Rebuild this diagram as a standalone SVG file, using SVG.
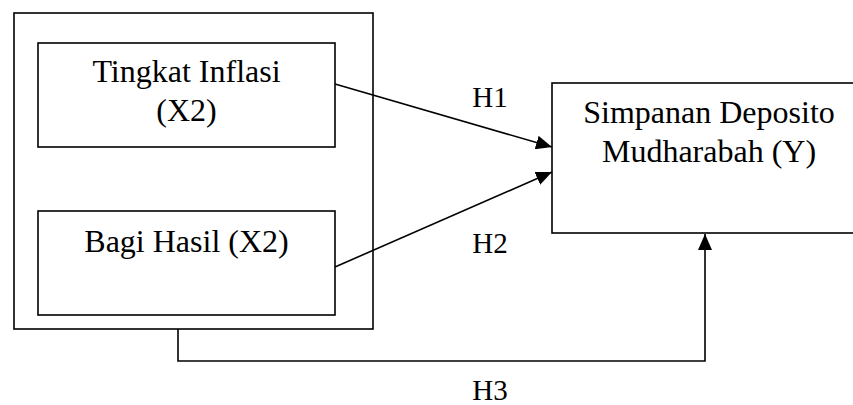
<svg xmlns="http://www.w3.org/2000/svg" width="853" height="405" viewBox="0 0 853 405">
  <style>
    .box { fill: none; stroke: #000; stroke-width: 1.6; }
    .conn { fill: none; stroke: #000; stroke-width: 1.6; }
    .t { font-family: "Liberation Serif", "Times New Roman", serif; font-size: 32px; fill: #000; text-anchor: middle; }
    .lbl { font-family: "Liberation Serif", "Times New Roman", serif; font-size: 29px; fill: #000; text-anchor: middle; }
  </style>
  <defs>
    <marker id="arrow" markerUnits="userSpaceOnUse" markerWidth="16" markerHeight="14" refX="16" refY="7" orient="auto">
      <path d="M0,0 L16,7 L0,14 z" fill="#000"/>
    </marker>
  </defs>
  <rect width="853" height="405" fill="#fff"/>
  <g id="outer-box">
    <rect class="box" x="14" y="13" width="359" height="316"/>
  </g>
  <g id="node-x2-inflasi">
    <rect class="box" x="38" y="43" width="297" height="104"/>
    <text class="t" x="186.5" y="82">Tingkat Inflasi</text>
    <text class="t" x="186.5" y="121">(X2)</text>
  </g>
  <g id="node-x2-bagi-hasil">
    <rect class="box" x="38" y="211" width="297" height="104"/>
    <text class="t" x="186.5" y="252">Bagi Hasil (X2)</text>
  </g>
  <g id="node-y">
    <rect class="box" x="552" y="83" width="314" height="150"/>
    <text class="t" x="709" y="123">Simpanan Deposito</text>
    <text class="t" x="709" y="162">Mudharabah (Y)</text>
  </g>
  <g id="connectors">
    <line class="conn" x1="335" y1="84" x2="552" y2="147" marker-end="url(#arrow)"/>
    <line class="conn" x1="335" y1="267" x2="552" y2="172" marker-end="url(#arrow)"/>
    <polyline class="conn" points="178,329 178,361 705,361 705,234" marker-end="url(#arrow)"/>
    <text class="lbl" x="490" y="107">H1</text>
    <text class="lbl" x="490" y="253">H2</text>
    <text class="lbl" x="490" y="400">H3</text>
  </g>
</svg>
